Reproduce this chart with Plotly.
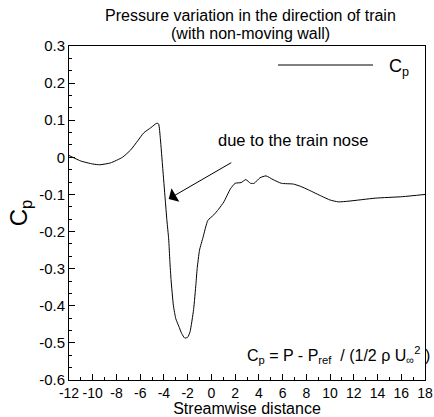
import plotly.graph_objects as go

# Data
distance = [-12, -11, -10, -9.4, -8.5, -7.5, -6.8, -6.2, -5.7, -5.1, -4.6, -4.45, -4.3,
            -4.1, -3.9, -3.75, -3.6, -3.5, -3.4, -3.2, -3.0, -2.75, -2.5, -2.25, -2.0,
            -1.8, -1.5, -1.3, -1.2, -1.0, -0.7, -0.3, 0.2, 0.6, 1.05, 1.6, 2.0, 2.5,
            2.9, 3.3, 3.6, 4.1, 4.6, 5.2, 5.9, 6.9, 7.5, 8.2, 9.3, 10.0, 10.7, 11.6,
            13.8, 16.1, 18]
cp = [0.005, -0.01, -0.018, -0.02, -0.015, 0.0, 0.02, 0.045, 0.066, 0.08, 0.092, 0.09,
      0.05, -0.03, -0.11, -0.17, -0.22, -0.28, -0.33, -0.40, -0.435, -0.455, -0.475,
      -0.487, -0.485, -0.47, -0.41, -0.34, -0.30, -0.25, -0.215, -0.17, -0.155, -0.14,
      -0.12, -0.085, -0.07, -0.068, -0.06, -0.07, -0.07, -0.055, -0.05, -0.06, -0.07,
      -0.072, -0.078, -0.088, -0.105, -0.115, -0.12, -0.118, -0.11, -0.106, -0.1]

x_ticks = list(range(-12, 19, 2))
y_ticks = [0.3, 0.2, 0.1, 0, -0.1, -0.2, -0.3, -0.4, -0.5, -0.6]
y_tick_labels = ["0.3", "0.2", "0.1", "0", "-0.1", "-0.2", "-0.3", "-0.4", "-0.5", "-0.6"]

FONT = "Arial, Liberation Sans, sans-serif"
W, H = 434, 417
L, R, T, B = 69, 9, 46, 37
PW, PH = W - L - R, H - T - B


def px(x):
    return (x - L) / PW


def py(y):
    return 1 - (y - T) / PH


fig = go.Figure()
fig.add_trace(go.Scatter(
    x=distance, y=cp, mode="lines", name="C<sub>p</sub>",
    line=dict(color="black", width=1, shape="spline", smoothing=0.5),
    showlegend=False,
))

fig.update_layout(
    width=W, height=H,
    margin=dict(l=L, r=R, t=T, b=B),
    paper_bgcolor="white", plot_bgcolor="white",
    font=dict(family=FONT, color="black", size=15),
)

fig.update_xaxes(
    range=[-12, 18], tickvals=x_ticks, ticktext=[str(v) for v in x_ticks],
    showgrid=False, zeroline=False, showline=True, linecolor="black", linewidth=1,
    mirror=True, ticks="inside", ticklen=6, tickcolor="black", tickangle=0,
    minor=dict(dtick=1, ticks="inside", ticklen=3, tickcolor="black"),
    tickfont=dict(size=14), automargin=False,
    title=dict(text="Streamwise distance", font=dict(size=16), standoff=2),
)
fig.update_yaxes(
    range=[-0.6, 0.3], tickvals=y_ticks, ticktext=y_tick_labels,
    showgrid=False, zeroline=False, showline=True, linecolor="black", linewidth=1,
    mirror=True, ticks="inside", ticklen=6, tickcolor="black",
    minor=dict(dtick=0.1 / 3, ticks="inside", ticklen=3, tickcolor="black"),
    tickfont=dict(size=15), automargin=False,
    title=dict(text="C<sub>p</sub>", font=dict(size=24), standoff=4),
)

# Title (two lines)
fig.add_annotation(xref="paper", yref="paper", x=px(250), y=py(15), showarrow=False,
                   xanchor="center", yanchor="middle",
                   text="Pressure variation in the direction of train", font=dict(size=16))
fig.add_annotation(xref="paper", yref="paper", x=px(250), y=py(34), showarrow=False,
                   xanchor="center", yanchor="middle",
                   text="(with non-moving wall)", font=dict(size=16))

# Legend drawn manually (line + label)
fig.add_shape(type="line", xref="paper", yref="paper",
              x0=px(278), x1=px(373), y0=py(65), y1=py(65),
              line=dict(color="black", width=1))
fig.add_annotation(xref="paper", yref="paper", x=px(387), y=py(67),
                   xanchor="left", yanchor="middle", showarrow=False,
                   text="C<sub>p</sub>", font=dict(size=18))

# Arrow annotation
fig.add_annotation(x=-3.6, y=-0.112, ax=1.8, ay=-0.012, axref="x", ayref="y",
                   showarrow=True, arrowhead=1, arrowsize=2.6, arrowwidth=1,
                   arrowcolor="black", text="")
fig.add_annotation(xref="paper", yref="paper", x=px(216), y=py(140),
                   xanchor="left", yanchor="middle",
                   showarrow=False, text="due to the train nose", font=dict(size=16.5))

# Formula
fig.add_annotation(xref="paper", yref="paper", x=px(245), y=py(355),
                   xanchor="left", yanchor="middle", showarrow=False,
                   text="C<sub>p</sub> = P - P<sub>ref</sub>  / (1/2 ρ U<sub>∞</sub><sup>2</sup> )",
                   font=dict(size=16))

fig.write_html(
    "out.html",
    config={"displayModeBar": False},
    post_script="document.body.style.margin='0';document.body.style.overflow='hidden';",
)
